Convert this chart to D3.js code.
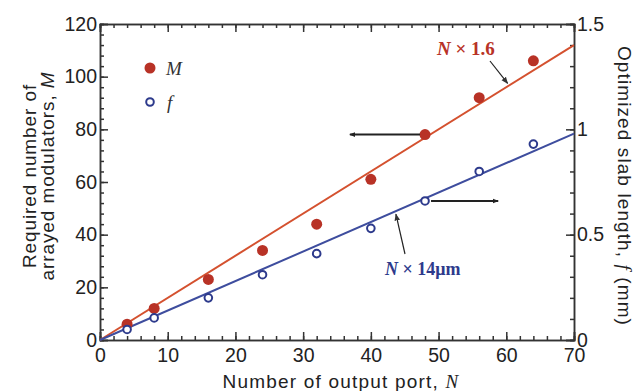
<!DOCTYPE html>
<html>
<head>
<meta charset="utf-8">
<script src="https://cdn.jsdelivr.net/npm/d3@7"></script>
<style>
  body { margin: 0; background: #fff; }
  svg { display: block; }
  .axis path, .axis line { stroke: #333; stroke-width: 1.5; }
  .axis text { font-family: "Liberation Sans", Arial, sans-serif; font-size: 19.5px; fill: #222; }
  .title { font-family: "Liberation Sans", Arial, sans-serif; font-size: 19px; fill: #222; }
</style>
</head>
<body>
<svg id="chart" width="638" height="391"></svg>
<script>
// values
var ports = [4, 8, 16, 24, 32, 40, 48, 56, 64];
var modulators = [6, 12, 23, 34, 44, 61, 78, 92, 106];
var slabLength = [0.05, 0.105, 0.2, 0.31, 0.41, 0.53, 0.66, 0.8, 0.93];
var fitM = 1.6;      // M = N x 1.6
var fitF = 0.014;    // f = N x 14 um, in mm
var xTicks = [0, 10, 20, 30, 40, 50, 60, 70];
var yLeftTicks = [0, 20, 40, 60, 80, 100, 120];
var yRightTicks = [0, 0.5, 1, 1.5];

var svg = d3.select("#chart");
var red = "#b83226", redLine = "#d4512f", blue = "#2d3a8c", blueLine = "#3e4d9e";

var x = d3.scaleLinear().domain([0, 70]).range([100, 574]);
var yL = d3.scaleLinear().domain([0, 120]).range([340, 24]);
var yR = d3.scaleLinear().domain([0, 1.5]).range([340, 24]);

function minor(lo, hi, step)
{
	return d3.range(lo, hi + step / 2, step);
}

// minor ticks first
svg.append("g").attr("class", "axis").attr("transform", "translate(0,340)")
	.call(d3.axisBottom(x).tickValues(minor(0, 70, 2)).tickSize(-4).tickFormat(""));
svg.append("g").attr("class", "axis").attr("transform", "translate(0,24)")
	.call(d3.axisTop(x).tickValues(minor(0, 70, 2)).tickSize(-4).tickFormat(""));
svg.append("g").attr("class", "axis").attr("transform", "translate(100,0)")
	.call(d3.axisLeft(yL).tickValues(minor(0, 120, 4)).tickSize(-4).tickFormat(""));
svg.append("g").attr("class", "axis").attr("transform", "translate(574,0)")
	.call(d3.axisRight(yR).tickValues(minor(0, 1.5, 0.1)).tickSize(-4).tickFormat(""));

// major ticks with labels
svg.append("g").attr("class", "axis").attr("transform", "translate(0,340)")
	.call(d3.axisBottom(x).tickValues(xTicks).tickSize(-8).tickPadding(8.5).tickFormat(d3.format("d")));
svg.append("g").attr("class", "axis").attr("transform", "translate(0,24)")
	.call(d3.axisTop(x).tickValues(xTicks).tickSize(-8).tickFormat(""));
svg.append("g").attr("class", "axis").attr("transform", "translate(100,0)")
	.call(d3.axisLeft(yL).tickValues(yLeftTicks).tickSize(-8).tickPadding(3).tickFormat(d3.format("d")));
svg.append("g").attr("class", "axis").attr("transform", "translate(574,0)")
	.call(d3.axisRight(yR).tickValues(yRightTicks).tickSize(-8).tickPadding(3).tickFormat(function(d)
	{
		return String(d);
	}));

// fit lines
svg.append("line")
	.attr("x1", x(0)).attr("y1", yL(0)).attr("x2", x(70)).attr("y2", yL(70 * fitM))
	.attr("stroke", redLine).attr("stroke-width", 2);
svg.append("line")
	.attr("x1", x(0)).attr("y1", yR(0)).attr("x2", x(70)).attr("y2", yR(70 * fitF))
	.attr("stroke", blueLine).attr("stroke-width", 2);

// points
svg.append("g").selectAll("circle").data(ports).enter().append("circle")
	.attr("cx", function(d) { return x(d); })
	.attr("cy", function(d, i) { return yL(modulators[i]); })
	.attr("r", 5.5).attr("fill", red);
svg.append("g").selectAll("circle").data(ports).enter().append("circle")
	.attr("cx", function(d) { return x(d); })
	.attr("cy", function(d, i) { return yR(slabLength[i]); })
	.attr("r", 3.8).attr("fill", "#fff").attr("stroke", blue).attr("stroke-width", 2);

// legend
svg.append("circle").attr("cx", 150).attr("cy", 68).attr("r", 5.5).attr("fill", red);
svg.append("text").attr("x", 166).attr("y", 75)
	.style("font-family", "'Liberation Serif', serif").style("font-style", "italic").style("font-size", "19px")
	.attr("fill", "#333").text("M");
svg.append("circle").attr("cx", 150).attr("cy", 102).attr("r", 3.8).attr("fill", "#fff").attr("stroke", blue).attr("stroke-width", 2);
svg.append("text").attr("x", 167).attr("y", 109)
	.style("font-family", "'Liberation Serif', serif").style("font-style", "italic").style("font-size", "19px")
	.attr("fill", "#333").text("f");

// arrows
var defs = svg.append("defs");
defs.append("marker").attr("id", "head").attr("viewBox", "0 0 10 10")
	.attr("refX", 9).attr("refY", 5).attr("markerWidth", 6).attr("markerHeight", 6)
	.attr("orient", "auto").attr("markerUnits", "userSpaceOnUse")
	.append("path").attr("d", "M0,1 L10,5 L0,9 Z").attr("fill", "#222");
defs.append("marker").attr("id", "thin").attr("viewBox", "0 0 10 10")
	.attr("refX", 9).attr("refY", 5).attr("markerWidth", 7).attr("markerHeight", 7)
	.attr("orient", "auto").attr("markerUnits", "userSpaceOnUse")
	.append("path").attr("d", "M0,1 L10,5 L0,9 Z").attr("fill", "#333");

function arrow(x1, y1, x2, y2, w, m)
{
	svg.append("line").attr("x1", x1).attr("y1", y1).attr("x2", x2).attr("y2", y2)
		.attr("stroke", "#222").attr("stroke-width", w).attr("marker-end", "url(#" + m + ")");
}
arrow(x(48) - 5, yL(78), x(36.9), yL(78), 2, "head");
arrow(x(48) + 6, yR(0.66), x(58.8), yR(0.66), 2, "head");
arrow(490, 61, x(60.2), yL(60.2 * fitM) - 3, 1.2, "thin");
arrow(405, 254, x(43.7), yR(43.7 * fitF) + 3, 1.2, "thin");

// fit labels
var fl = svg.append("text").attr("x", 437).attr("y", 55)
	.style("font-family", "'Liberation Serif', serif").style("font-weight", "bold").style("font-size", "19px")
	.attr("fill", red);
fl.append("tspan").style("font-style", "italic").text("N");
fl.append("tspan").text(" \u00d7 1.6");
var fb = svg.append("text").attr("x", 385).attr("y", 275)
	.style("font-family", "'Liberation Serif', serif").style("font-weight", "bold").style("font-size", "18px")
	.attr("fill", blue);
fb.append("tspan").style("font-style", "italic").text("N");
fb.append("tspan").text(" \u00d7 14\u03bcm");

// axis titles
var xt = svg.append("text").attr("class", "title").attr("x", 341).attr("y", 388)
	.attr("text-anchor", "middle").style("letter-spacing", "1.2px");
xt.append("tspan").text("Number of output port, ");
xt.append("tspan").style("font-family", "'Liberation Serif', serif").style("font-style", "italic").text("N");

var lt = svg.append("text").attr("class", "title").attr("transform", "translate(36,176) rotate(-90)")
	.attr("text-anchor", "middle").style("letter-spacing", "0.9px");
lt.append("tspan").attr("x", 0).attr("dy", 0).text("Required number of");
lt.append("tspan").attr("x", 0).attr("dy", 17.5).text("arrayed modulators, ");
lt.append("tspan").style("font-style", "italic").text("M");

var rt = svg.append("text").attr("class", "title").attr("transform", "translate(618,186) rotate(90)")
	.attr("text-anchor", "middle").style("letter-spacing", "1.1px");
rt.append("tspan").text("Optimized slab length, ");
rt.append("tspan").style("font-family", "'Liberation Serif', serif").style("font-style", "italic").text("f");
rt.append("tspan").text(" (mm)");
</script>
</body>
</html>
